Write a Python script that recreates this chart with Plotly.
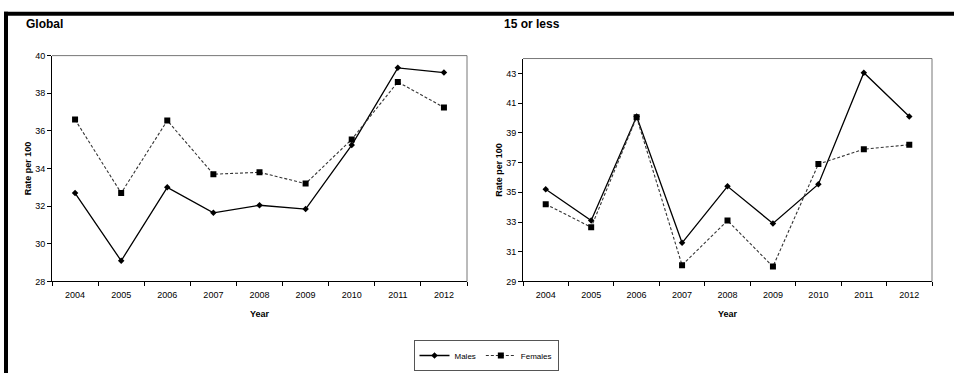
import plotly.graph_objects as go

years = ["2004", "2005", "2006", "2007", "2008", "2009", "2010", "2011", "2012"]

global_males = [32.7, 29.1, 33.0, 31.65, 32.05, 31.85, 35.25, 39.35, 39.1]
global_females = [36.6, 32.7, 36.55, 33.7, 33.8, 33.2, 35.55, 38.6, 37.25]

young_males = [35.2, 33.1, 40.1, 31.6, 35.4, 32.9, 35.55, 43.05, 40.1]
young_females = [34.2, 32.65, 40.05, 30.1, 33.1, 30.0, 36.9, 37.9, 38.2]

global_yticks = [28, 30, 32, 34, 36, 38, 40]
young_yticks = [29, 31, 33, 35, 37, 39, 41, 43]

W, H = 954, 378
narrow = "Liberation Sans Narrow, Arial Narrow, Liberation Sans, Arial"
bold = "Liberation Sans, Arial"


def px(x):
    return x / W


def py(y):
    return 1 - y / H


fig = go.Figure()

male_line = dict(color="black", width=1.3)
female_line = dict(color="#333333", width=1.1, dash="3px,2px")
male_marker = dict(symbol="diamond", size=5, color="black")
female_marker = dict(symbol="square", size=6, color="black")

fig.add_trace(go.Scatter(x=years, y=global_males, mode="lines+markers", name="Males",
                         line=male_line, marker=male_marker, xaxis="x", yaxis="y"))
fig.add_trace(go.Scatter(x=years, y=global_females, mode="lines+markers", name="Females",
                         line=female_line, marker=female_marker, xaxis="x", yaxis="y"))
fig.add_trace(go.Scatter(x=years, y=young_males, mode="lines+markers", name="Males",
                         line=male_line, marker=male_marker, xaxis="x2", yaxis="y2",
                         showlegend=False))
fig.add_trace(go.Scatter(x=years, y=young_females, mode="lines+markers", name="Females",
                         line=female_line, marker=female_marker, xaxis="x2", yaxis="y2",
                         showlegend=False))

xcommon = dict(type="category", range=[-0.5, 8.5], showgrid=False, zeroline=False,
               showline=True, linecolor="black", linewidth=1, ticks="outside",
               tickson="boundaries", ticklen=4, tickcolor="black", ticklabelstandoff=5,
               tickfont=dict(family=narrow, size=9, color="black"),
               title=dict(text="<b>Year</b>", font=dict(family=bold, size=9, color="black"),
                          standoff=11))
ycommon = dict(showgrid=False, zeroline=False, showline=True, linecolor="black",
               linewidth=1, ticks="outside", ticklen=4, tickcolor="black",
               tickfont=dict(family=narrow, size=9, color="black"),
               title=dict(text="<b>Rate per 100</b>", font=dict(family=bold, size=9, color="black"),
                          standoff=2))

L1, R1, T1, B1 = 52, 467, 52, 284
L2, R2, T2, B2 = 523, 932, 55, 284

fig.update_layout(
    width=W, height=H,
    margin=dict(l=0, r=0, t=0, b=0),
    paper_bgcolor="white", plot_bgcolor="white",
    xaxis=dict(xcommon, domain=[px(L1), px(R1)], anchor="y"),
    yaxis=dict(ycommon, domain=[py(B1), py(T1)], anchor="x", range=[28, 40],
               tickvals=global_yticks),
    xaxis2=dict(xcommon, domain=[px(L2), px(R2)], anchor="y2"),
    yaxis2=dict(ycommon, domain=[py(B2), py(T2)], anchor="x2", range=[29, 44],
                tickvals=young_yticks),
    legend=dict(orientation="h", x=px(486), y=py(360), xanchor="center", yanchor="middle",
                bordercolor="#555555", borderwidth=1, bgcolor="white",
                font=dict(family=narrow, size=8, color="black"),
                itemwidth=30, tracegroupgap=0),
    showlegend=True,
)

# grey frame around plot areas (top and right)
for xref, yref in (("x domain", "y domain"), ("x2 domain", "y2 domain")):
    fig.add_shape(type="line", xref=xref, yref=yref, x0=0, x1=1, y0=1, y1=1,
                  line=dict(color="#777777", width=1))
    fig.add_shape(type="line", xref=xref, yref=yref, x0=1, x1=1, y0=0, y1=1,
                  line=dict(color="#777777", width=1))

# black L-shaped outer border
fig.add_shape(type="rect", xref="paper", yref="paper", x0=px(4), x1=1, y0=py(11), y1=py(7),
              fillcolor="black", line=dict(width=0))
fig.add_shape(type="rect", xref="paper", yref="paper", x0=px(4), x1=px(8), y0=0, y1=py(7),
              fillcolor="black", line=dict(width=0))

fig.add_annotation(text="<b>Global</b>", xref="paper", yref="paper", x=px(24), y=py(20),
                   xanchor="left", yanchor="middle", showarrow=False,
                   font=dict(family=bold, size=12, color="black"))
fig.add_annotation(text="<b>15 or less</b>", xref="paper", yref="paper", x=px(502), y=py(20),
                   xanchor="left", yanchor="middle", showarrow=False,
                   font=dict(family=bold, size=12, color="black"))

fig.write_html("out.html", config={"displayModeBar": False},
               post_script="document.body.style.margin='0';document.body.style.overflow='hidden';")
